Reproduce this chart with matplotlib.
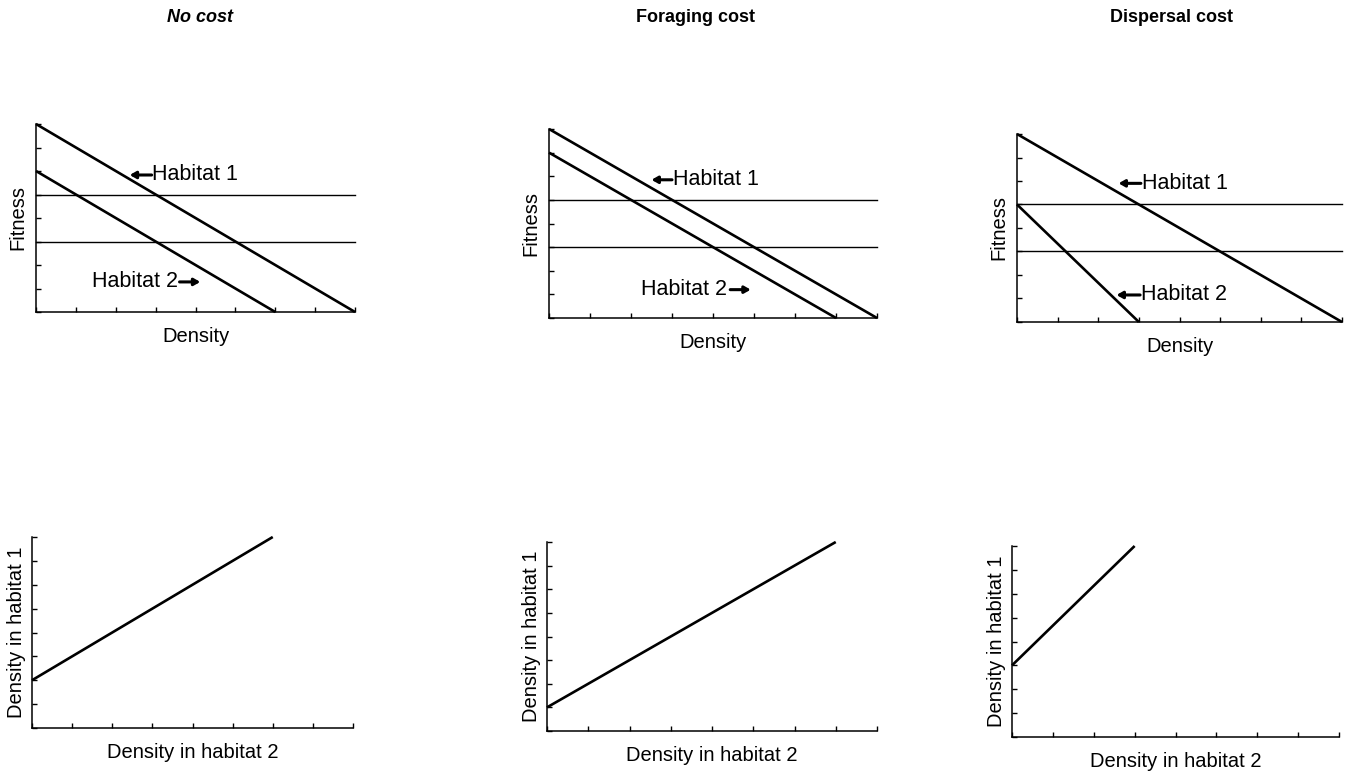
import matplotlib
matplotlib.use("Agg")
import matplotlib.pyplot as plt

plt.rcParams['font.family'] = ['Liberation Sans', 'DejaVu Sans']

W, H = 1350, 772

# ---- data ----
titles = ["No cost", "Foraging cost", "Dispersal cost"]
title_styles = ["italic", "normal", "normal"]

# fitness vs density lines: (x, y) endpoints
hab1_x = [[0, 8], [0, 8], [0, 8]]
hab1_y = [[8, 0], [8, 0], [8, 0]]
hab2_x = [[0, 6], [0, 7], [0, 3]]
hab2_y = [[6, 0], [7, 0], [5, 0]]
fitness_levels = [5, 3]

# density in habitat 1 vs density in habitat 2
dens2_x = [[0, 6], [0, 7], [0, 3]]
dens1_y = [[2, 8], [1, 8], [3, 8]]

# ---- layout (pixel boxes: left, right, top, bottom) ----
top_boxes = [(36, 355, 124, 312), (549, 877, 129, 318), (1017, 1342, 134, 322)]
bot_boxes = [(32, 353, 537, 728), (547, 877, 542, 731), (1012, 1339, 546, 737)]
title_x = [200, 695, 1172]
title_y = 17

# label annotations (text x, arrow tail x, arrow head x, y)
h1_labels = [(2.92, 2.9, 2.35, 5.83), (3.02, 3.0, 2.5, 5.85), (3.07, 3.05, 2.5, 5.9)]
h2_labels = [("right", 3.55, 3.6, 4.12, 1.28), ("right", 4.35, 4.42, 4.92, 1.2),
             ("left", 3.05, 3.03, 2.45, 1.15)]

fig = plt.figure(figsize=(W / 100, H / 100), dpi=100)


def make_ax(box):
    l, r, t, b = box
    ax = fig.add_axes([l / W, 1 - b / H, (r - l) / W, (b - t) / H])
    ax.set_xlim(0, 8)
    ax.set_ylim(0, 8)
    ax.spines['top'].set_visible(False)
    ax.spines['right'].set_visible(False)
    for s in ('left', 'bottom'):
        ax.spines[s].set_linewidth(1.1)
    ax.set_xticks(range(0, 9))
    ax.set_yticks(range(0, 9))
    ax.tick_params(direction='in', length=3.5, width=1, labelbottom=False, labelleft=False)
    ax.set_xticklabels([])
    ax.set_yticklabels([])
    for t_ in ax.xaxis.get_major_ticks() + ax.yaxis.get_major_ticks():
        t_.tick1line.set_clip_on(False)
    return ax


FS = 14.5
HFS = 15.5
for i in range(3):
    ax = make_ax(top_boxes[i])
    for lv in fitness_levels:
        ax.plot([0, 8], [lv, lv], color='black', lw=1.0, clip_on=False)
    ax.plot(hab1_x[i], hab1_y[i], color='black', lw=1.9, clip_on=False,
            solid_capstyle='butt')
    ax.plot(hab2_x[i], hab2_y[i], color='black', lw=1.9, clip_on=False,
            solid_capstyle='butt')
    ax.set_xlabel("Density", fontsize=FS, labelpad=11)
    ax.set_ylabel("Fitness", fontsize=FS, labelpad=6)

    tx, ax_tail, ax_head, y = h1_labels[i]
    ax.annotate('', xy=(ax_head, y), xytext=(ax_tail, y),
                arrowprops=dict(arrowstyle='-|>,head_length=0.35,head_width=0.2',
                                color='black', lw=2.2, shrinkA=0, shrinkB=0))
    ax.text(tx, y, "Habitat 1", fontsize=HFS, ha='left', va='center')

    side, tx, a0, a1, y = h2_labels[i]
    ax.annotate('', xy=(a1, y), xytext=(a0, y),
                arrowprops=dict(arrowstyle='-|>,head_length=0.35,head_width=0.2',
                                color='black', lw=2.2, shrinkA=0, shrinkB=0))
    ax.text(tx, y, "Habitat 2", fontsize=HFS, ha=side, va='center')

    fig.text(title_x[i] / W, 1 - title_y / H, titles[i], fontsize=13,
             fontweight='bold', style=title_styles[i], ha='center', va='center')

for i in range(3):
    ax = make_ax(bot_boxes[i])
    ax.plot(dens2_x[i], dens1_y[i], color='black', lw=1.9, clip_on=False,
            solid_capstyle='butt')
    ax.set_xlabel("Density in habitat 2", fontsize=FS, labelpad=11)
    ax.set_ylabel("Density in habitat 1", fontsize=FS, labelpad=4)

fig.savefig("out.png", dpi=100, facecolor='white')
